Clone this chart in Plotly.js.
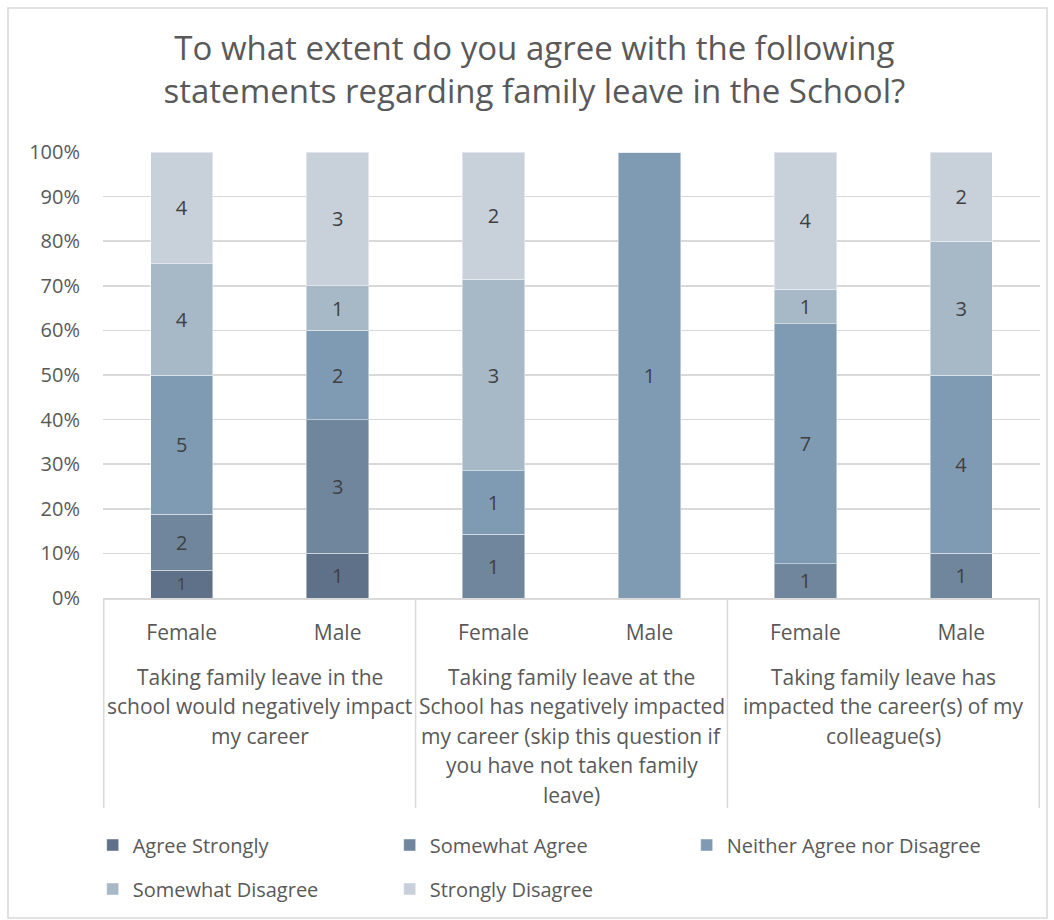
<!DOCTYPE html>
<html>
<head>
<meta charset="utf-8">
<script src="https://cdn.plot.ly/plotly-3.0.1.min.js"></script>
<style>
html,body{margin:0;padding:0;background:#fff;}
#chart{width:1054px;height:920px;}
</style>
</head>
<body>
<div id="chart"></div>
<script>
const groupLabels = [
  "Taking family leave in the<br>school would negatively impact<br>my career",
  "Taking family leave at the<br>School has negatively impacted<br>my career (skip this question if<br>you have not taken family<br>leave)",
  "Taking family leave has<br>impacted the career(s) of my<br>colleague(s)"
];
const genders = ["Female", "Male"];
const seriesNames = ["Agree Strongly", "Somewhat Agree", "Neither Agree nor Disagree", "Somewhat Disagree", "Strongly Disagree"];
const agreeStrongly    = [1, 1, 0, 0, 0, 0];
const somewhatAgree    = [2, 3, 1, 0, 1, 1];
const neither          = [5, 2, 1, 1, 7, 4];
const somewhatDisagree = [4, 1, 3, 0, 1, 3];
const stronglyDisagree = [4, 3, 2, 0, 4, 2];
const yTickVals  = [0, 10, 20, 30, 40, 50, 60, 70, 80, 90, 100];
const yTickText  = ["0%", "10%", "20%", "30%", "40%", "50%", "60%", "70%", "80%", "90%", "100%"];
const colors = ["#5f7189", "#6f869c", "#7f9bb3", "#a7b8c7", "#c8d0da"];

const FONT = "Open Sans, Liberation Sans, sans-serif";
const TXT = "#595959";

// unique category keys, one per bar, labelled by gender
const catKeys = [], catText = [];
groupLabels.forEach((g, gi) => genders.forEach(s => { catKeys.push("g" + gi + "_" + s); catText.push(s); }));

const allSeries = [agreeStrongly, somewhatAgree, neither, somewhatDisagree, stronglyDisagree];
const traces = allSeries.map((vals, i) => ({
  type: "bar",
  name: seriesNames[i],
  legend: i < 3 ? "legend" : "legend2",
  x: catKeys,
  y: vals,
  text: vals.map(v => v === 0 ? "" : String(v)),
  textposition: "inside",
  insidetextanchor: "middle",
  textangle: 0,
  textfont: {family: FONT, size: 20, color: "#404040"},
  marker: {color: colors[i], line: {color: "rgba(255,255,255,0.45)", width: 1}},
  hoverinfo: "skip"
}));

// plot geometry helpers (paper units)
const PLOT_TOP = 152, PLOT_BOTTOM = 598, PLOT_H = PLOT_BOTTOM - PLOT_TOP;
const py = px => (PLOT_BOTTOM - px) / PLOT_H;

const annotations = [];
groupLabels.forEach((g, gi) => {
  g.split("<br>").forEach((line, k) => {
    annotations.push({
      xref: "x", yref: "paper",
      x: gi * 2 + 0.5, y: py(677 + k * 29.4),
      xanchor: "center", yanchor: "middle",
      text: line, showarrow: false,
      font: {family: FONT, size: 21, color: TXT}
    });
  });
});

const shapes = [];
for (let d = 0; d <= groupLabels.length; d++) {
  shapes.push({
    type: "line", xref: "x", yref: "paper",
    x0: d * 2 - 0.5, x1: d * 2 - 0.5, y0: 0, y1: py(808),
    line: {color: "#d9d9d9", width: 1.5}
  });
}
// outer chart border
shapes.push({
  type: "rect", xref: "paper", yref: "paper",
  x0: (8 - 103) / 937, x1: (1047 - 103) / 937, y0: py(918), y1: py(8),
  line: {color: "#d9d9d9", width: 1.5}, fillcolor: "rgba(0,0,0,0)", layer: "below"
});

const legendCommon = {
  orientation: "h",
  xanchor: "left", yanchor: "middle",
  entrywidth: 252, entrywidthmode: "pixels",
  font: {family: FONT, size: 20, color: TXT},
  traceorder: "normal",
  bgcolor: "rgba(0,0,0,0)"
};

const layout = {
  width: 1054, height: 920,
  paper_bgcolor: "#ffffff", plot_bgcolor: "#ffffff",
  font: {family: FONT, color: TXT, size: 20},
  title: {
    text: "To what extent do you agree with the following<br>statements regarding family leave in the School?",
    font: {family: FONT, size: 33, color: TXT},
    x: 0.507, xanchor: "center", xref: "container",
    y: 1 - 60 / 920, yanchor: "top", yref: "container"
  },
  barmode: "stack",
  barnorm: "percent",
  bargap: 0.6,
  margin: {l: 103, r: 14, t: 152, b: 322},
  xaxis: {
    type: "category",
    tickvals: catKeys, ticktext: catText,
    showline: true, linecolor: "#d9d9d9", linewidth: 1.5,
    ticks: "", showgrid: false,
    ticklabelstandoff: 15,
    tickfont: {family: FONT, size: 21, color: TXT}
  },
  yaxis: {
    range: [0, 100],
    tickmode: "array", tickvals: yTickVals, ticktext: yTickText,
    showgrid: true, gridcolor: "#d9d9d9", gridwidth: 1.5,
    zeroline: false, showline: false,
    ticklabelstandoff: 22,
    tickfont: {family: FONT, size: 20, color: TXT}
  },
  legend: Object.assign({}, legendCommon, {x: -0.011, y: py(845)}),
  legend2: Object.assign({}, legendCommon, {x: -0.011, y: py(889)}),
  annotations: annotations,
  shapes: shapes
};

Plotly.newPlot("chart", traces, layout, {displayModeBar: false, staticPlot: true});
</script>
</body>
</html>
